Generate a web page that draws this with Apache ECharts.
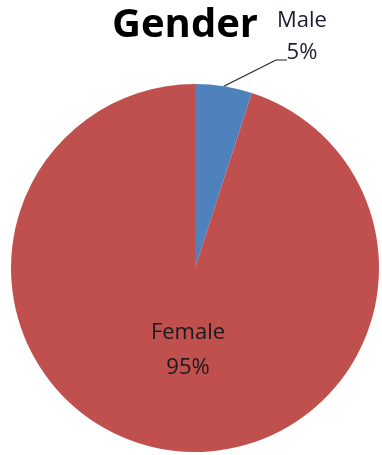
<!DOCTYPE html>
<html>
<head>
<meta charset="utf-8">
<script src="https://cdn.jsdelivr.net/npm/echarts@6/dist/echarts.min.js"></script>
<style>
  html, body { margin: 0; padding: 0; background: #fff; }
  #chart { width: 382px; height: 455px; }
</style>
</head>
<body>
<div id="chart"></div>
<script>
// Gender split, percent of respondents
const categories = ['Male', 'Female'];
const shares = [5, 95];
const sliceColors = ['#4F81BD', '#C0504D'];

const chart = echarts.init(document.getElementById('chart'));

const font = '"Open Sans", "Liberation Sans", sans-serif';

chart.setOption({
  animation: false,
  backgroundColor: '#ffffff',
  title: {
    text: 'Gender',
    left: 180,
    top: 1,
    textAlign: 'center',
    textStyle: { fontFamily: font, fontWeight: 'bold', fontSize: 40, color: '#000' }
  },
  series: [{
    type: 'pie',
    center: [195, 268],
    radius: 184,
    startAngle: 90,
    clockwise: true,
    data: categories.map((name, i) => ({
      name,
      value: shares[i],
      itemStyle: { color: sliceColors[i] },
      label: i === 0 ? {
        position: 'outside',
        formatter: '{b}\n{d}%',
        align: 'center',
        lineHeight: 32,
        fontSize: 22,
        fontFamily: font,
        color: '#1c1c30'
      } : {
        position: 'inside',
        formatter: '{b}\n{d}%',
        align: 'center',
        lineHeight: 35,
        fontSize: 22,
        fontFamily: font,
        color: '#1a1a1a'
      },
      labelLine: i === 0 ? {
        show: true,
        length: 30,
        length2: 10,
        lineStyle: { color: '#222', width: 1.2 }
      } : { show: false }
    })),
    labelLayout: function (params) {
      if (params.dataIndex === 0) {
        // keep the anchor on the slice edge, bend the leader to the bottom of the label
        const start = params.labelLinePoints ? params.labelLinePoints[0] : [224, 86];
        return {
          x: 302, y: 37, align: 'center', verticalAlign: 'middle',
          labelLinePoints: [start, [276, 60], [287, 60]]
        };
      }
      return { x: 188, y: 350, align: 'center', verticalAlign: 'middle' };
    },
    itemStyle: { borderWidth: 0 },
    emphasis: { disabled: true }
  }]
});
</script>
</body>
</html>
